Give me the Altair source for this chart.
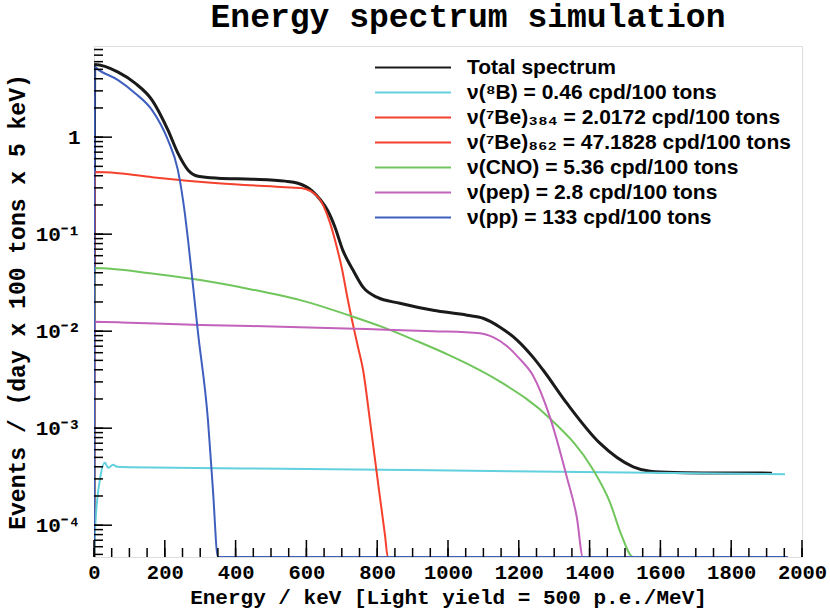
import altair as alt
import pandas as pd

FLOOR = 4.7e-5  # lower edge of the log axis
Y_TOP = 8.7

series_names = [
    "Total spectrum",
    "ν(⁸B) = 0.46 cpd/100 tons",
    "ν(⁷Be)₃₈₄ = 2.0172 cpd/100 tons",
    "ν(⁷Be)₈₆₂ = 47.1828 cpd/100 tons",
    "ν(CNO) = 5.36 cpd/100 tons",
    "ν(pep) = 2.8 cpd/100 tons",
    "ν(pp) = 133 cpd/100 tons",
]
series_colors = ["#1a1a1a", "#62d0de", "#f4402c", "#f4402c", "#70c65c", "#c262bc", "#3f5fbf"]

total_e = [0, 2, 68, 116, 164, 209, 237, 266, 294, 350, 446, 540, 576, 616, 640, 660, 680,
           703, 732, 760, 799, 864, 958, 1054, 1099, 1147, 1195, 1240, 1268, 1336, 1429,
           1523, 1571, 1640, 1800, 1915]
total_v = [FLOOR, 5.6, 4.68, 3.60, 2.41, 1.18, 0.684, 0.457, 0.396, 0.378, 0.369, 0.352,
           0.335, 0.28, 0.225, 0.175, 0.12, 0.068, 0.0425, 0.0284, 0.0224, 0.0194, 0.0164,
           0.0146, 0.0136, 0.011, 0.0081, 0.0054, 0.004, 0.0018, 0.0007, 0.0004, 0.00036,
           0.00035, 0.000345, 0.000344]

b8_e = [0, 3, 17, 31, 40, 54, 65, 100, 600, 1180, 1952]
b8_v = [FLOOR, 9e-5, 3e-4, 4.4e-4, 3.9e-4, 4.2e-4, 4.0e-4, 3.95e-4, 3.8e-4, 3.6e-4, 3.36e-4]

be384_e = []
be384_v = []

be862_e = [0, 3, 68, 164, 350, 540, 588, 633, 667, 686, 701, 716, 732, 746, 760, 780,
           802, 822, 830, 966]
be862_v = [FLOOR, 0.436, 0.425, 0.387, 0.335, 0.305, 0.298, 0.241, 0.130, 0.0734, 0.043,
           0.022, 0.0115, 0.0068, 0.0040, 0.00116, 2.8e-4, 7.9e-5, FLOOR, FLOOR]

cno_e = [0, 2, 158, 300, 441, 582, 732, 816, 912, 1006, 1062, 1147, 1288, 1410,
         1458, 1490, 1523, 1684]
cno_v = [FLOOR, 0.0447, 0.0396, 0.0336, 0.0271, 0.0209, 0.0141, 0.0110, 0.0079, 0.0056,
         0.00447, 0.00302, 0.00126, 0.000372, 0.00017, 7.9e-5, FLOOR, FLOOR]

pep_e = [0, 2, 100, 300, 582, 771, 958, 1090, 1127, 1167, 1200, 1240, 1288, 1336, 1364,
         1381, 1446]
pep_v = [FLOOR, 0.0125, 0.0122, 0.0116, 0.011, 0.0105, 0.0100, 0.00953, 0.00867, 0.0070,
         0.0053, 0.0035, 0.0013, 0.00031, 0.00012, FLOOR, FLOOR]

pp_e = [0, 2, 11, 68, 116, 164, 209, 237, 257, 266, 294, 322, 336, 350, 1960]
pp_v = [FLOOR, 5.3, 5.0, 3.87, 2.84, 1.90, 0.931, 0.457, 0.16, 0.085, 0.0095, 0.0012,
        2.3e-4, FLOOR, FLOOR]

x_label_values = list(range(0, 2001, 200))
x_minor_ticks = list(range(0, 2001, 50))
y_label_values = [1e-4, 1e-3, 1e-2, 1e-1, 1]
y_minor_ticks = [k * 10.0 ** p for p in range(-5, 1) for k in range(1, 10)
                 if FLOOR <= k * 10.0 ** p <= Y_TOP]

# ---- tables ----
def frame(name, es, vs):
    return pd.DataFrame({"series": name, "e": es, "v": vs})

df_total = frame(series_names[0], total_e, total_v)
df_comp = pd.concat([
    frame(series_names[1], b8_e, b8_v),
    frame(series_names[2], be384_e, be384_v),
    frame(series_names[3], be862_e, be862_v),
    frame(series_names[4], cno_e, cno_v),
    frame(series_names[5], pep_e, pep_v),
    frame(series_names[6], pp_e, pp_v),
], ignore_index=True)

df_xmaj = pd.DataFrame({"e": x_label_values})
df_xmin = pd.DataFrame({"e": x_minor_ticks})
df_ymaj = pd.DataFrame({"v": y_label_values})
df_ymin = pd.DataFrame({"v": y_minor_ticks})

MONO = "Liberation Mono"
W, H = 708, 511

xscale = alt.Scale(domain=[0, 2000], nice=False, zero=False)
yscale = alt.Scale(type="log", domain=[FLOOR, Y_TOP], nice=False)

x_axis = alt.Axis(
    values=x_label_values, format="d", ticks=False, domain=False, grid=False,
    labelFlush=False, labelOverlap=False,
    labelFont=MONO, labelFontWeight="bold", labelFontSize=20.5, labelColor="black",
    labelPadding=5, title="Energy / keV [Light yield = 500 p.e./MeV]",
    titleFont=MONO, titleFontWeight="bold", titleFontSize=21, titleColor="black",
    titlePadding=4,
)
y_axis = alt.Axis(
    values=y_label_values, ticks=False, domain=False, grid=False,
    labelExpr="datum.value >= 1 ? '1' : datum.value >= 0.1 ? '10⁻¹' : datum.value >= 0.01 ? '10⁻²' : datum.value >= 0.001 ? '10⁻³' : '10⁻⁴'",
    labelFont=MONO, labelFontWeight="bold", labelFontSize=21, labelColor="black",
    labelPadding=14, title="Events / (day x 100 tons x 5 keV)",
    titleFont=MONO, titleFontWeight="bold", titleFontSize=23, titleColor="black",
    titlePadding=6,
)

X = alt.X("e:Q", scale=xscale, axis=x_axis)
Y = alt.Y("v:Q", scale=yscale, axis=y_axis)

color = alt.Color(
    "series:N",
    scale=alt.Scale(domain=series_names, range=series_colors),
    legend=alt.Legend(
        orient="none", legendX=280, legendY=9, title=None, padding=0,
        symbolType="stroke", symbolSize=5776, symbolStrokeWidth=2,
        clipHeight=25, rowPadding=0, labelOffset=15, labelLimit=600,
        labelFont="Liberation Sans", labelFontWeight="bold", labelFontSize=21,
        labelColor="black",
    ),
    sort=series_names,
)

total = alt.Chart(df_total).mark_line(strokeWidth=3, clip=True, interpolate="monotone").encode(
    x=X, y=Y, color=color,
)
comps = alt.Chart(df_comp).mark_line(strokeWidth=2, clip=True, interpolate="monotone").encode(
    x=X, y=Y, color=color,
)

tick_style = dict(color="black", strokeWidth=1.5)
ymaj = alt.Chart(df_ymaj).mark_rule(**tick_style).encode(
    y=Y, x=alt.value(0), x2=alt.value(18))
ymin = alt.Chart(df_ymin).mark_rule(**tick_style).encode(
    y=Y, x=alt.value(0), x2=alt.value(9))
xmaj = alt.Chart(df_xmaj).mark_rule(**tick_style).encode(
    x=X, y=alt.value(H), y2=alt.value(H - 17))
xmin = alt.Chart(df_xmin).mark_rule(**tick_style).encode(
    x=X, y=alt.value(H), y2=alt.value(H - 9))

chart = alt.layer(total, comps, ymin, ymaj, xmin, xmaj).properties(
    width=W, height=H,
    title=alt.TitleParams(
        "Energy spectrum simulation", font=MONO, fontWeight="bold", fontSize=33,
        color="black", anchor="middle", dx=20, offset=12,
    ),
    autosize=alt.AutoSizeParams(type="none"),
    padding={"left": 94, "top": 46, "right": 28, "bottom": 53},
).configure_view(stroke="black", strokeWidth=2).configure(background="white")

chart.save("out.html", embed_options={"renderer": "svg", "actions": False})
